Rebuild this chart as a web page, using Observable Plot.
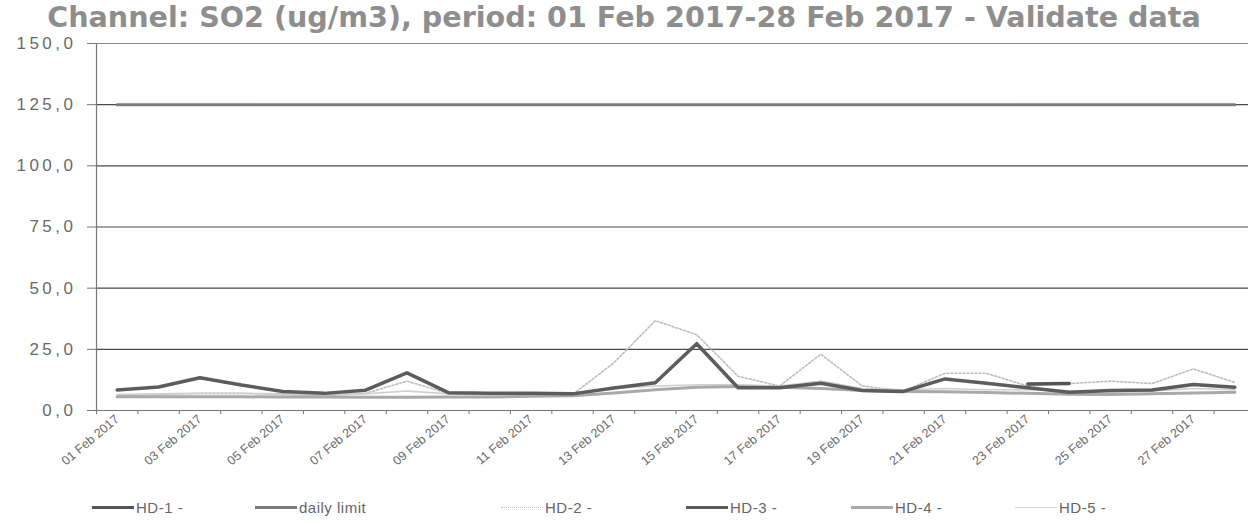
<!DOCTYPE html>
<html><head><meta charset="utf-8">
<script src="https://cdn.jsdelivr.net/npm/d3@7"></script>
<script src="https://cdn.jsdelivr.net/npm/@observablehq/plot@0.6"></script>
<style>
html,body{margin:0;padding:0;background:#fff;overflow:hidden;width:1248px;height:524px}
#wrap{position:relative;width:1248px;height:524px;overflow:hidden}
#chart svg{overflow:hidden}
#chart svg g[aria-label="y-axis tick label"] text{letter-spacing:3.5px}
#title{position:absolute;left:0;top:0px;width:1248px;text-align:center;font-family:"DejaVu Sans";font-weight:bold;font-size:28.6px;color:#8e8e8e;line-height:34px;white-space:nowrap}
.leg{position:absolute;top:497px;height:20px;display:flex;align-items:center;font-family:"Liberation Sans",Arial,sans-serif;font-size:15px;letter-spacing:0.5px;color:#666}
.leg .sw{width:42px;margin-right:2px}
</style></head><body>
<div id="wrap"><div id="chart"></div><div id="title">Channel: SO2 (ug/m3), period: 01 Feb 2017-28 Feb 2017 - Validate data</div><div id="legend"></div></div>
<script>
const days = ["01 Feb 2017","02 Feb 2017","03 Feb 2017","04 Feb 2017","05 Feb 2017","06 Feb 2017","07 Feb 2017",
  "08 Feb 2017","09 Feb 2017","10 Feb 2017","11 Feb 2017","12 Feb 2017","13 Feb 2017","14 Feb 2017",
  "15 Feb 2017","16 Feb 2017","17 Feb 2017","18 Feb 2017","19 Feb 2017","20 Feb 2017","21 Feb 2017",
  "22 Feb 2017","23 Feb 2017","24 Feb 2017","25 Feb 2017","26 Feb 2017","27 Feb 2017","28 Feb 2017"];
const labelDays = ["01 Feb 2017","03 Feb 2017","05 Feb 2017","07 Feb 2017","09 Feb 2017","11 Feb 2017","13 Feb 2017",
  "15 Feb 2017","17 Feb 2017","19 Feb 2017","21 Feb 2017","23 Feb 2017","25 Feb 2017","27 Feb 2017"];
const yTicks = [0, 25, 50, 75, 100, 125, 150];

const hd1 = [null,null,null,null,null,null,null,null,null,null,null,null,null,null,
  null,null,null,null,null,null,null,null,10.8,11.0,null,null,null,null];
const dailyLimit = [125,125,125,125,125,125,125,125,125,125,125,125,125,125,
  125,125,125,125,125,125,125,125,125,125,125,125,125,125];
const hd2 = [6.0,6.5,7.0,7.0,6.5,6.0,7.0,12.0,7.0,6.5,6.5,6.5,19.5,36.7,
  31.0,14.0,10.0,23.0,10.0,8.0,15.2,15.2,10.0,11.0,12.0,11.0,17.0,11.5];
const hd3 = [8.4,9.6,13.4,10.4,7.8,7.0,8.3,15.4,7.3,7.0,7.0,6.8,9.2,11.3,
  27.3,9.3,9.3,11.1,8.2,7.8,12.9,11.1,9.3,7.5,8.2,8.4,10.6,9.5];
const hd4 = [5.6,5.6,5.6,5.6,5.5,5.5,5.4,5.4,5.5,5.5,5.8,6.0,7.2,8.5,
  9.5,9.8,9.5,9.0,8.2,7.8,7.7,7.4,7.0,6.6,6.5,6.8,7.2,7.5];
const hd5 = [6.5,6.8,7.0,7.0,6.8,6.5,6.8,8.0,6.8,6.5,6.5,6.8,9.0,10.0,
  10.5,10.5,10.0,12.0,9.0,8.5,9.0,8.5,8.5,8.0,7.5,8.0,9.0,8.5];

const series = [
  {name:"HD-1 -", values:hd1, stroke:"#555", width:3.5, dash:null},
  {name:"daily limit", values:dailyLimit, stroke:"#7c7c7c", width:3, dash:null},
  {name:"HD-2 -", values:hd2, stroke:"#bdbdbd", width:1.6, dash:"2,2"},
  {name:"HD-3 -", values:hd3, stroke:"#5c5c5c", width:3.5, dash:null},
  {name:"HD-4 -", values:hd4, stroke:"#a9a9a9", width:3, dash:null},
  {name:"HD-5 -", values:hd5, stroke:"#cfcfcf", width:1.6, dash:null}
];
const legendLeft = [92, 255, 501, 686, 851, 1015];

const dayIndex = new Map(days.map((d, i) => [d, i + 1]));
const boundaries = days.map((d, i) => i + 0.5).concat([days.length + 0.5]);

const lineMarks = series.map(s => Plot.line(
  s.values.map((v, i) => ({x: i + 1, y: v})),
  {x: "x", y: "y", stroke: s.stroke, strokeWidth: s.width, strokeDasharray: s.dash, defined: d => d.y != null}
));
const order = [2, 5, 4, 1, 0, 3];

const chart = Plot.plot({
  width: 1248, height: 490,
  marginLeft: 96, marginRight: 0, marginTop: 43, marginBottom: 80,
  style: {fontFamily: "'Liberation Sans', Arial, sans-serif", color: "#6a6a6a", background: "#fff"},
  x: {type: "linear", domain: [0.5, days.length + 0.5], range: [96, 1255]},
  y: {domain: [0, 150], range: [410, 43]},
  marks: [
    Plot.ruleY(yTicks.slice(1, -1), {stroke: "#4a4a4a", strokeWidth: 1.2}),
    Plot.ruleY(yTicks.slice(-1), {stroke: "#8a8a8a", strokeWidth: 1.2}),
    Plot.axisY({ticks: yTicks, tickSize: 9, tickPadding: 11, fontSize: 17, tickFormat: d => d.toFixed(1).replace(".", ","), label: null, stroke: "#777"}),
    Plot.axisX({ticks: boundaries, tickSize: 4, tickFormat: () => "", label: null, stroke: "#777"}),
    Plot.axisX({ticks: labelDays.map(d => dayIndex.get(d)), tickSize: 0, tickPadding: 7, tickRotate: -40, fontSize: 12.5, tickFormat: d => days[d - 1], label: null}),
    Plot.ruleX([0.5], {y1: 0, y2: 150, stroke: "#777", strokeWidth: 1.2}),
    Plot.ruleY([0], {stroke: "#777", strokeWidth: 1.2}),
    ...order.map(i => lineMarks[i])
  ]
});
document.getElementById("chart").appendChild(chart);

const leg = document.getElementById("legend");
series.forEach((s, i) => {
  const item = document.createElement("div");
  item.className = "leg";
  item.style.left = legendLeft[i] + "px";
  const sw = document.createElement("div");
  sw.className = "sw";
  sw.style.borderTop = s.dash ? `${s.width}px dotted ${s.stroke}` : `${s.width}px solid ${s.stroke}`;
  item.appendChild(sw);
  const t = document.createElement("span");
  t.textContent = s.name;
  item.appendChild(t);
  leg.appendChild(item);
});
</script>
</body></html>
